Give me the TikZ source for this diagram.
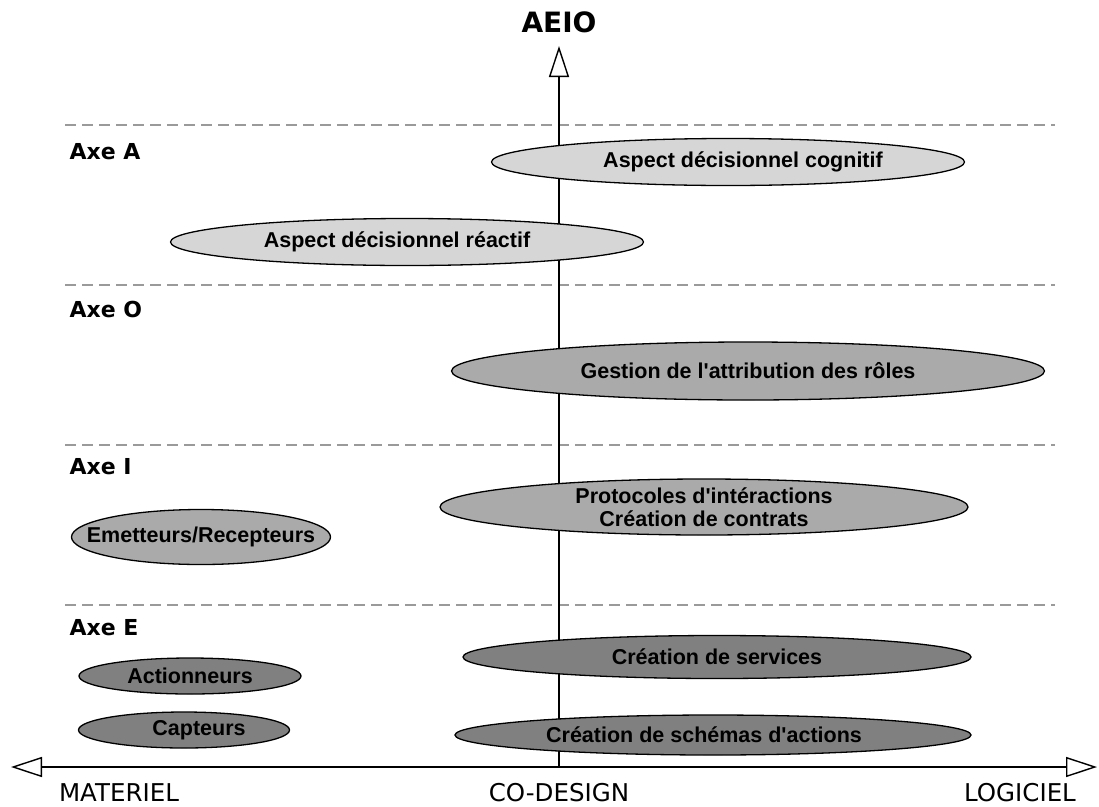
\documentclass[tikz,border=0pt]{standalone}
\usepackage{fontspec}
\setmainfont{Liberation Sans}
\newfontfamily\comicfont{DejaVu Sans}
\usetikzlibrary{shapes.geometric,arrows.meta}
\definecolor{lightg}{HTML}{D6D6D6}
\definecolor{midg}{HTML}{AAAAAA}
\definecolor{darkg}{HTML}{808080}
\definecolor{dashg}{HTML}{9A9A9A}
\newcommand{\sq}{\textquotesingle}
\tikzset{
  ovtext/.style={font=\fontsize{21.5}{23.5}\selectfont\bfseries, align=center},
  oval/.style={ellipse, draw=black, line width=1.3pt, inner sep=0pt, ovtext},
  ovlight/.style={oval, fill=lightg},
  ovmid/.style={oval, fill=midg},
  ovdark/.style={oval, fill=darkg},
  sep/.style={draw=dashg, line width=1.4pt, dash pattern=on 11pt off 6pt},
  axelabel/.style={anchor=west, font=\comicfont\fontsize{22}{24}\selectfont\bfseries},
  axislabel/.style={font=\comicfont\fontsize{24.5}{26}\selectfont},
  axisline/.style={line width=2pt},
  opentip/.tip={Triangle[open, length=31pt, width=20pt, line width=1.4pt]},
}
\begin{document}
\begin{tikzpicture}[x=1pt,y=-1pt]
\useasboundingbox (0,0) rectangle (1099,806);
% separators
\foreach \yy/\nm in {125/s1,285/s2,445/s3,605/s4}{
  \coordinate (\nm a) at (65,\yy);
  \coordinate (\nm b) at (1055,\yy);
  \draw[sep] (\nm a) -- (\nm b);
}
% axes
\coordinate (vbot) at (559,767);
\coordinate (vtop) at (559,46);
\coordinate (hl) at (11,767);
\coordinate (hr) at (1097,767);
\draw[axisline, -{opentip}] (vbot) -- (vtop);
\draw[axisline, {opentip}-{opentip}] (hl) -- (hr);
% axis labels
\node[font=\comicfont\fontsize{28}{30}\selectfont\bfseries] (aeio) at (559,22) {AEIO};
\node[axislabel] (mat) at (119,793) {MATERIEL};
\node[axislabel] (cod) at (559,793) {CO-DESIGN};
\node[axislabel] (log) at (1020,793) {LOGICIEL};
% axe labels
\node[axelabel] (axeA) at (66,152) {Axe A};
\node[axelabel] (axeO) at (66,309) {Axe O};
\node[axelabel] (axeI) at (66,467) {Axe I};
\node[axelabel] (axeE) at (66,628) {Axe E};
% ellipses
\node[ovlight, minimum width=473pt, minimum height=47pt] (cog) at (728,162) {\hspace*{30pt}Aspect décisionnel cognitif};
\node[ovlight, minimum width=473pt, minimum height=47pt] (rea) at (407,242) {Aspect décisionnel réactif\hspace*{20pt}};
\node[ovmid, minimum width=593pt, minimum height=58pt] (roles) at (748,371) {Gestion de l\sq attribution des rôles};
\node[ovmid, minimum width=528pt, minimum height=56pt] (proto) at (704,507) {Protocoles d\sq intéractions\\Création de contrats};
\node[ovmid, minimum width=259pt, minimum height=55pt,
  label={[ovtext]center:Emetteurs/Recepteurs}] (emet) at (201,537) {};
\node[ovdark, minimum width=508pt, minimum height=43pt] (serv) at (717,657) {Création de services};
\node[ovdark, minimum width=516pt, minimum height=40pt] (sch) at (713,735) {Création de schémas d\sq actions\hspace*{18pt}};
\node[ovdark, minimum width=222pt, minimum height=36pt] (act) at (190,676) {Actionneurs};
\node[ovdark, minimum width=211pt, minimum height=36pt] (cap) at (184,730) {\hspace*{30pt}Capteurs};
\end{tikzpicture}
\end{document}
